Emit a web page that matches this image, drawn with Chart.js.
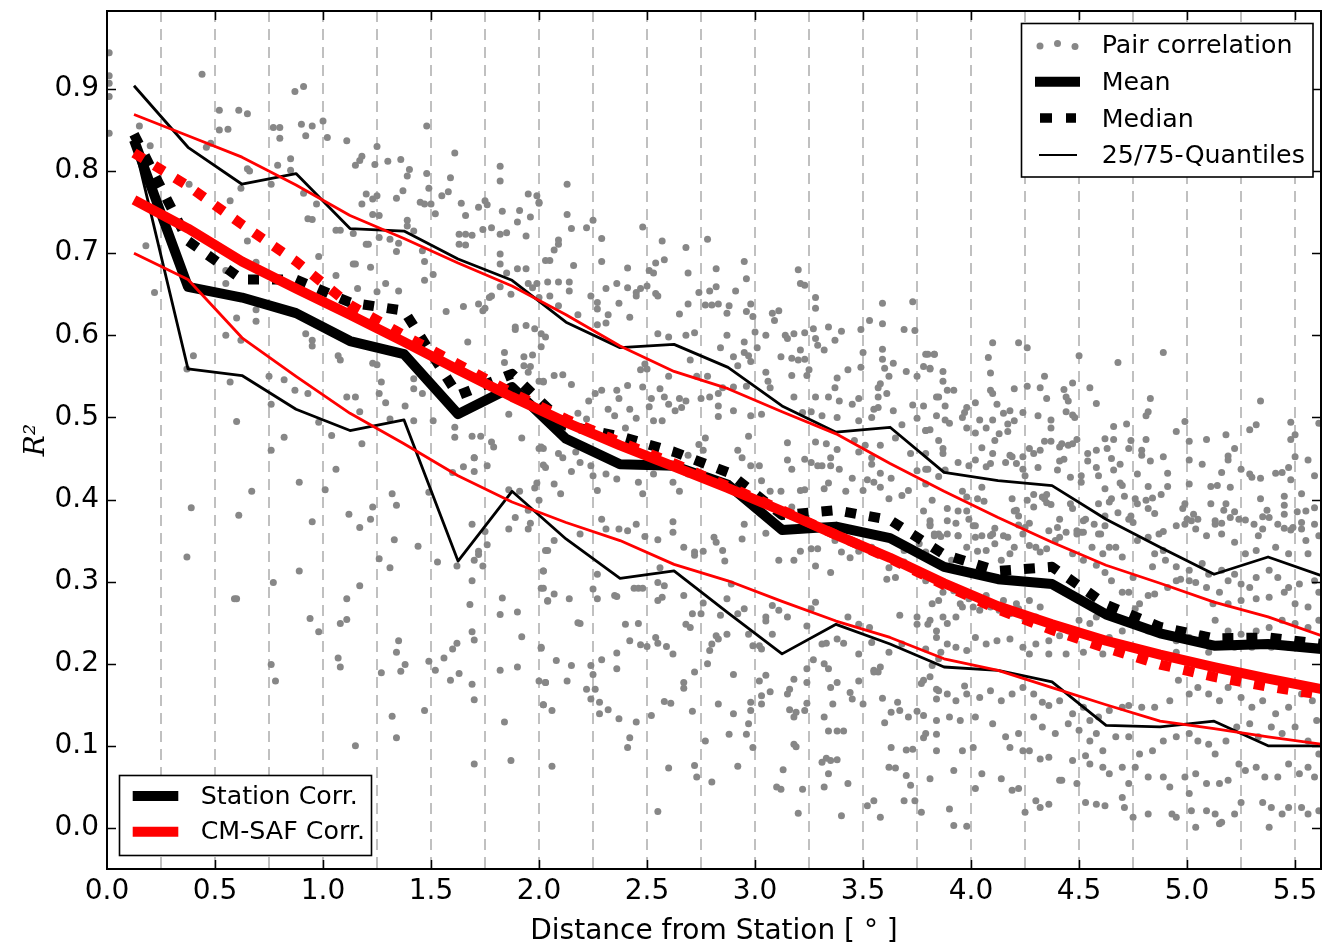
<!DOCTYPE html>
<html>
<head>
<meta charset="utf-8">
<title>Pair correlation vs distance</title>
<script src="https://cdn.jsdelivr.net/npm/chart.js@4.4.1/dist/chart.umd.min.js"></script>
<style>
html, body { margin: 0; padding: 0; background: #ffffff; }
#canvasCorr { display: block; }
</style>
</head>
<body>
<canvas id="canvasCorr" width="1325" height="946"></canvas>
<script>
// global holder
var go = {};

// bin centres (degrees) used by all the summary curves
var binCenters = [0.125, 0.375, 0.625, 0.875, 1.125, 1.375, 1.625, 1.875, 2.125, 2.375, 2.625, 2.875,
    3.125, 3.375, 3.625, 3.875, 4.125, 4.375, 4.625, 4.875, 5.125, 5.375, 5.625];

// station correlation (black)
var stationMean = [0.838, 0.659, 0.646, 0.627, 0.593, 0.577, 0.504, 0.537, 0.474, 0.443, 0.441, 0.418,
    0.363, 0.367, 0.353, 0.318, 0.303, 0.297, 0.260, 0.237, 0.222, 0.224, 0.218];
var stationMedian = [0.845, 0.715, 0.668, 0.668, 0.640, 0.630, 0.527, 0.553, 0.490, 0.477, 0.458, 0.433,
    0.381, 0.387, 0.375, 0.333, 0.313, 0.318, 0.272, 0.245, 0.231, 0.232, 0.224];
var stationQ25 = [0.835, 0.559, 0.551, 0.510, 0.484, 0.497, 0.325, 0.410, 0.352, 0.304, 0.313, 0.262,
    0.212, 0.248, 0.224, 0.196, 0.192, 0.178, 0.125, 0.123, 0.130, 0.100, 0.100];
var stationQ75 = [0.904, 0.829, 0.784, 0.797, 0.730, 0.727, 0.693, 0.667, 0.616, 0.585, 0.589, 0.561,
    0.514, 0.482, 0.488, 0.433, 0.423, 0.417, 0.376, 0.342, 0.309, 0.330, 0.307];

// CM-SAF correlation (red)
var cmsafMean = [0.765, 0.730, 0.690, 0.657, 0.625, 0.592, 0.558, 0.525, 0.494, 0.466, 0.440, 0.414,
    0.386, 0.357, 0.329, 0.298, 0.270, 0.248, 0.228, 0.211, 0.196, 0.182, 0.169];
var cmsafMedian = [0.822, 0.782, 0.735, 0.690, 0.637, 0.600, 0.565, 0.530, 0.498, 0.470, 0.444, 0.416,
    0.387, 0.357, 0.328, 0.296, 0.266, 0.241, 0.219, 0.199, 0.184, 0.172, 0.162];
var cmsafQ25 = [0.700, 0.668, 0.597, 0.550, 0.505, 0.468, 0.429, 0.397, 0.372, 0.350, 0.321, 0.301,
    0.276, 0.252, 0.232, 0.206, 0.192, 0.171, 0.150, 0.130, 0.121, 0.111, 0.102];
var cmsafQ75 = [0.869, 0.843, 0.817, 0.783, 0.746, 0.718, 0.688, 0.660, 0.625, 0.587, 0.556, 0.535,
    0.507, 0.480, 0.444, 0.410, 0.378, 0.348, 0.320, 0.298, 0.275, 0.257, 0.234];

// legend texts
var legendTopLabels = ["Pair correlation", "Mean", "Median", "25/75-Quantiles"];
var legendBottomLabels = ["Station Corr.", "CM-SAF Corr."];

// single station pairs [distance, R^2]
var pairPoints = [
    [0.01,0.944],[0.01,0.916],[0.01,0.907],[0.01,0.891],[0.01,0.846],
    [0.44,0.918],[0.15,0.855],[0.20,0.831],[0.52,0.874],[0.61,0.874],[0.65,0.870],[0.52,0.850],[0.56,0.851],[0.87,0.897],[0.91,0.903],[0.77,0.853],[0.80,0.853],[0.80,0.840],[0.90,0.857],[0.95,0.855],[1.00,0.861],[0.92,0.843],[1.02,0.841],[1.11,0.837],[0.46,0.829],[0.48,0.834],[0.85,0.815],[0.79,0.807],[0.65,0.803],[0.66,0.800],[0.85,0.801],[0.38,0.784],[0.76,0.784],[0.62,0.779],[0.91,0.773],[0.57,0.764],[0.97,0.760],[0.93,0.742],[0.95,0.741],[1.06,0.728],[1.08,0.728],[0.65,0.715],[0.18,0.709],[0.98,0.696],[0.22,0.652],[0.55,0.679],[0.55,0.663],[0.69,0.689],[1.06,0.673],[1.14,0.687],[1.15,0.687],[1.16,0.657],[1.29,0.663],[1.35,0.654],[1.22,0.683],[1.25,0.653],[0.60,0.621],[0.69,0.617],[0.69,0.631],[0.55,0.600],[0.62,0.594],[0.40,0.575],[0.37,0.559],[0.57,0.543],[0.75,0.550],[0.82,0.546],[0.87,0.533],[0.93,0.529],[0.92,0.602],[0.95,0.594],[0.95,0.587],[1.07,0.575],[1.08,0.570],[1.23,0.566],[1.25,0.564],[1.27,0.543],[1.26,0.529],[1.42,0.547],[1.42,0.535],[1.46,0.529],[0.60,0.495],[0.76,0.516],[0.82,0.476],[0.76,0.460],[0.98,0.494],[1.04,0.478],[1.11,0.525],[1.15,0.525],[1.17,0.507],[1.18,0.468],[1.29,0.518],[1.31,0.498],[1.38,0.514],[1.42,0.496],[1.51,0.496],[1.61,0.488],[1.61,0.476],[1.69,0.477],[1.73,0.477],[1.78,0.470],[1.79,0.464],[1.70,0.451],[1.92,0.475],[2.02,0.462],
    [1.48,0.855],[1.61,0.822],[1.25,0.830],[1.17,0.813],[1.18,0.818],[1.15,0.807],[1.24,0.808],[1.30,0.812],[1.36,0.814],[1.40,0.802],[1.39,0.794],[1.37,0.776],[1.34,0.767],[1.48,0.797],[1.49,0.779],[1.55,0.770],[1.58,0.775],[1.59,0.792],[1.20,0.772],[1.23,0.766],[1.25,0.770],[1.18,0.760],[1.23,0.747],[1.26,0.746],[1.14,0.724],[1.20,0.711],[1.21,0.711],[1.26,0.719],[1.31,0.717],[1.35,0.712],[1.34,0.702],[1.39,0.740],[1.39,0.733],[1.42,0.727],[1.45,0.762],[1.47,0.760],[1.50,0.760],[1.52,0.748],[1.46,0.703],[1.47,0.690],[1.51,0.674],[1.47,0.667],[1.64,0.761],[1.66,0.746],[1.72,0.756],[1.75,0.764],[1.76,0.759],[1.63,0.723],[1.66,0.723],[1.69,0.722],[1.63,0.711],[1.66,0.710],[1.74,0.729],[1.78,0.731],[1.82,0.723],[1.85,0.725],[1.82,0.806],[1.82,0.788],[1.83,0.751],[1.91,0.752],[1.90,0.738],[1.96,0.744],[1.95,0.772],[1.99,0.770],[2.00,0.761],[1.94,0.721],[1.94,0.681],[2.03,0.691],[1.82,0.699],[1.82,0.687],[1.85,0.676],[1.90,0.681],[1.57,0.629],[1.65,0.635],[1.72,0.638],[1.74,0.630],[1.75,0.633],[1.78,0.648],[1.77,0.646],[1.82,0.659],[1.87,0.650],[1.95,0.663],[1.97,0.658],[1.99,0.663],[1.89,0.610],[1.89,0.607],[1.94,0.612],[1.98,0.608],[2.01,0.602],[2.03,0.598],[1.67,0.592],[1.84,0.579],[1.84,0.567],[1.93,0.574],[1.97,0.576],[1.93,0.563],[1.96,0.562],[1.95,0.555],[2.01,0.586],[2.02,0.543],[1.86,0.504],
    [1.06,0.437],[0.67,0.410],[0.89,0.421],[1.01,0.412],[0.39,0.390],[0.61,0.381],[0.95,0.373],[1.12,0.382],[1.23,0.391],[1.22,0.376],[1.17,0.366],[1.32,0.407],[1.34,0.393],[1.33,0.351],[1.44,0.343],[1.49,0.409],[1.60,0.433],[1.65,0.440],[1.70,0.434],[1.70,0.451],[1.76,0.441],[1.69,0.370],[1.72,0.337],[1.72,0.333],[1.70,0.326],[1.74,0.319],[1.76,0.345],[1.75,0.361],[1.86,0.412],[1.91,0.410],[1.89,0.378],[1.86,0.364],[1.95,0.364],[1.96,0.371],[1.95,0.387],[1.99,0.420],[1.98,0.414],[2.00,0.399],[1.53,0.324],[1.62,0.319],[1.69,0.301],[1.68,0.272],[2.02,0.442],[2.00,0.462],[2.02,0.313],[2.01,0.292],[2.04,0.276],[2.03,0.338],[1.26,0.328],[1.31,0.317],[0.89,0.313],[0.77,0.299],[0.37,0.330],[0.59,0.279],[0.60,0.279],[1.17,0.295],[1.11,0.279],[0.94,0.255],[0.98,0.239],[1.08,0.249],[1.11,0.254],[1.83,0.280],[1.82,0.260],[1.90,0.263],[1.92,0.233],[1.69,0.239],[1.70,0.229],[1.62,0.225],[1.60,0.218],[1.56,0.207],[1.49,0.203],[1.52,0.192],[1.59,0.180],[1.63,0.188],[1.35,0.228],[1.34,0.214],[1.38,0.199],[1.36,0.191],[1.27,0.189],[1.07,0.207],[1.08,0.196],[0.76,0.199],[0.78,0.179],[1.69,0.175],[1.70,0.156],[1.82,0.192],[1.90,0.196],[2.01,0.219],[2.03,0.177],[2.02,0.150],[1.32,0.136],[1.34,0.110],[1.47,0.143],[1.15,0.100],[1.84,0.129],[1.70,0.078],[1.87,0.082],
    [2.13,0.784],[2.00,0.762],[2.13,0.747],[2.15,0.730],[2.22,0.731],[2.25,0.740],[2.29,0.718],[2.29,0.690],[2.16,0.685],[2.09,0.716],[2.09,0.711],[2.07,0.704],[2.05,0.691],[2.48,0.732],[2.57,0.715],[2.68,0.707],[2.78,0.717],[2.54,0.688],[2.58,0.692],[2.51,0.679],[2.53,0.676],[2.95,0.690],[2.96,0.669],[2.82,0.681],[2.69,0.676],[2.41,0.682],[3.20,0.680],[3.21,0.663],[3.23,0.661],[2.04,0.665],[2.09,0.665],[2.14,0.665],[2.14,0.654],[2.24,0.648],[2.27,0.640],[2.31,0.657],[2.32,0.625],[2.36,0.663],[2.37,0.639],[2.41,0.658],[2.45,0.652],[2.47,0.657],[2.50,0.660],[2.45,0.648],[2.54,0.651],[2.55,0.648],[2.65,0.626],[2.69,0.638],[2.74,0.652],[2.79,0.654],[2.82,0.659],[2.91,0.654],[2.77,0.637],[2.80,0.637],[2.83,0.638],[2.88,0.636],[2.87,0.627],[2.96,0.629],[2.98,0.638],[2.99,0.623],[3.08,0.627],[3.11,0.630],[3.09,0.618],[3.28,0.646],[3.28,0.633],[3.59,0.639],[3.73,0.641],[2.00,0.646],[2.05,0.648],[2.09,0.636],[2.18,0.625],[2.27,0.632],[2.27,0.613],[2.31,0.615],[2.42,0.622],[2.55,0.602],[2.60,0.598],[2.68,0.600],[2.72,0.603],[2.87,0.600],[2.84,0.585],[2.95,0.592],[3.01,0.585],[3.00,0.604],[2.95,0.579],[2.97,0.575],[2.98,0.568],[2.90,0.574],[2.92,0.563],[2.70,0.570],[2.49,0.565],[2.50,0.559],[2.47,0.558],[2.60,0.550],[2.73,0.550],[2.78,0.550],[2.85,0.536],[2.90,0.537],[2.96,0.538],[3.05,0.555],[3.06,0.544],[3.07,0.536],[3.05,0.600],[3.14,0.600],[3.15,0.596],[3.18,0.602],[3.23,0.603],[3.27,0.608],[3.28,0.596],[3.29,0.588],[3.32,0.582],[3.34,0.610],[3.37,0.594],[3.40,0.605],[3.49,0.607],[3.53,0.618],[3.59,0.614],[3.69,0.607],[3.74,0.606],[3.50,0.579],[3.49,0.561],[3.59,0.583],[3.59,0.571],[3.64,0.566],[3.60,0.560],[3.62,0.550],[3.58,0.541],[3.57,0.536],[3.61,0.529],[3.70,0.556],[3.75,0.550],[3.80,0.577],[3.83,0.577],[3.78,0.562],[3.81,0.560],[3.84,0.525],[3.43,0.558],[3.38,0.548],[3.37,0.536],[3.34,0.525],[3.39,0.520],[3.21,0.582],[3.20,0.570],[3.23,0.571],[3.17,0.572],[3.12,0.574],[3.17,0.551],[3.25,0.558],[3.24,0.551],[3.18,0.525],[3.28,0.525],[3.38,0.500],[3.31,0.502],[3.22,0.506],[3.26,0.507],[3.45,0.516],[3.48,0.523],[3.48,0.496],[3.54,0.500],[3.55,0.510],[3.57,0.525],[3.57,0.512],[3.64,0.508],[3.68,0.491],[3.73,0.515],[3.75,0.499],[3.79,0.484],[3.65,0.475],[3.58,0.466],[3.54,0.451],[3.51,0.466],[3.46,0.472],[3.48,0.458],[3.38,0.461],[3.35,0.451],[3.39,0.437],[3.45,0.426],[3.52,0.424],[3.55,0.421],[3.58,0.415],[3.58,0.432],[3.63,0.426],[3.71,0.411],[3.75,0.435],[3.79,0.437],[3.54,0.443],[3.72,0.456],[3.42,0.410],[3.31,0.441],[3.26,0.445],[3.23,0.412],[3.12,0.410],[3.07,0.410],[3.03,0.423],[3.02,0.441],[2.98,0.441],[2.94,0.451],[2.92,0.460],[2.97,0.477],[2.92,0.415],[2.77,0.475],[2.76,0.460],[2.74,0.467],[2.69,0.454],[2.69,0.431],[2.65,0.410],[2.83,0.529],[2.83,0.514],[2.79,0.525],[2.75,0.523],[2.65,0.523],[2.68,0.520],[2.66,0.512],[2.63,0.508],[2.60,0.516],[2.58,0.525],[2.52,0.523],[2.56,0.535],[2.51,0.513],[2.53,0.496],[2.45,0.499],[2.42,0.510],[2.36,0.533],[2.37,0.523],[2.32,0.510],[2.35,0.502],[2.29,0.533],[2.26,0.529],[2.23,0.520],[2.18,0.505],[2.22,0.498],[2.40,0.487],[2.41,0.539],[2.48,0.537],[2.57,0.496],[2.90,0.508],[2.83,0.501],[2.98,0.502],[3.03,0.504],[3.15,0.469],[3.15,0.448],[3.17,0.437],[3.23,0.449],[3.29,0.441],[3.35,0.441],[3.28,0.470],[3.33,0.468],[3.21,0.411],[3.32,0.413],[3.34,0.420],[3.50,0.411],[3.62,0.401],[3.68,0.405],[3.79,0.419],[2.09,0.456],[2.11,0.451],[2.07,0.419],[2.10,0.407],[2.15,0.434],[2.17,0.458],[2.19,0.445],[2.24,0.441],[2.25,0.429],[2.27,0.411],[2.31,0.431],[2.36,0.425],[2.46,0.421],[2.48,0.407],[2.53,0.431],[2.62,0.421],[2.68,0.433],[2.01,0.464],[2.03,0.439],[2.00,0.544],[2.02,0.544],[2.07,0.551],[2.11,0.552],[2.15,0.540],
    [2.19,0.358],[2.31,0.364],[2.29,0.376],[2.37,0.364],[2.41,0.362],[2.45,0.370],[2.49,0.355],[2.55,0.351],[2.62,0.373],[2.62,0.360],[2.67,0.342],[2.72,0.336],[2.72,0.332],[2.76,0.337],[2.81,0.354],[2.82,0.348],[2.86,0.325],[2.85,0.338],[2.94,0.352],[2.95,0.370],[3.05,0.359],[3.06,0.378],[3.10,0.388],[3.17,0.391],[3.11,0.326],[3.18,0.326],[3.21,0.337],[3.26,0.340],[3.29,0.340],[3.28,0.319],[3.35,0.311],[3.37,0.350],[3.40,0.336],[3.44,0.329],[3.48,0.337],[3.54,0.342],[3.62,0.317],[3.61,0.303],[3.65,0.305],[3.69,0.338],[3.69,0.324],[3.76,0.346],[3.83,0.356],[3.79,0.301],
    [2.02,0.313],[2.02,0.292],[2.04,0.277],[2.07,0.350],[2.04,0.338],[2.14,0.279],[2.07,0.285],[2.01,0.220],[2.18,0.250],[2.19,0.249],[2.27,0.309],[2.25,0.291],[2.27,0.279],[2.35,0.283],[2.36,0.282],[2.40,0.248],[2.46,0.249],[2.42,0.228],[2.47,0.223],[2.50,0.221],[2.44,0.292],[2.46,0.292],[2.48,0.292],[2.55,0.299],[2.58,0.295],[2.56,0.317],[2.57,0.281],[2.55,0.277],[2.54,0.232],[2.55,0.225],[2.59,0.221],[2.62,0.212],[2.67,0.283],[2.68,0.248],[2.70,0.244],[2.71,0.261],[2.76,0.274],[2.75,0.261],[2.80,0.224],[2.79,0.216],[2.82,0.234],[2.83,0.230],[2.87,0.236],[2.87,0.279],[2.84,0.259],[2.89,0.297],[2.92,0.261],[2.95,0.267],
    [2.97,0.236],[2.99,0.222],[3.02,0.222],[3.03,0.218],[3.05,0.257],[3.05,0.252],[3.08,0.236],[3.08,0.271],[3.11,0.265],[3.15,0.257],[3.24,0.246],[3.26,0.267],[3.28,0.275],[3.31,0.224],[3.33,0.225],[3.32,0.200],[3.38,0.230],[3.41,0.225],[3.43,0.257],[3.48,0.248],[3.53,0.244],[3.48,0.212],[3.54,0.226],[3.55,0.192],[3.57,0.190],[3.58,0.196],[3.62,0.214],[3.68,0.224],[3.67,0.259],[3.75,0.257],[3.80,0.248],[3.75,0.248],[3.84,0.232],[3.79,0.218],[3.82,0.198],[3.85,0.206],
    [2.00,0.179],[2.03,0.177],[2.02,0.150],[2.06,0.143],[2.08,0.204],[2.13,0.179],[2.15,0.198],[2.22,0.169],[2.24,0.198],[2.25,0.187],[2.24,0.157],[2.26,0.169],[2.28,0.153],[2.28,0.139],[2.32,0.144],[2.29,0.205],[2.36,0.213],[2.36,0.194],[2.37,0.133],[2.42,0.110],[2.41,0.098],[2.45,0.129],[2.52,0.137],[2.58,0.154],[2.61,0.152],[2.67,0.177],[2.67,0.170],[2.72,0.190],[2.78,0.200],[2.71,0.142],[2.83,0.151],[2.90,0.187],[2.90,0.139],[2.88,0.114],[2.97,0.127],[2.96,0.114],[2.98,0.143],[2.98,0.153],[3.02,0.179],[3.03,0.161],[3.03,0.151],[3.05,0.186],[3.07,0.166],[3.15,0.163],[3.16,0.169],[3.18,0.181],[3.16,0.144],[3.19,0.141],[3.18,0.135],[3.23,0.143],[3.24,0.152],[3.24,0.177],[3.24,0.194],[3.27,0.205],[3.34,0.194],[3.35,0.171],[3.36,0.151],[3.38,0.177],[3.44,0.165],[3.45,0.157],[3.48,0.179],[3.50,0.151],[3.55,0.190],[3.59,0.158],[3.60,0.128],[3.63,0.141],[3.66,0.153],[3.67,0.143],[3.71,0.135],[3.75,0.142],[3.77,0.176],[3.78,0.137],[3.73,0.096],[3.70,0.095],[3.84,0.169],[3.84,0.157],[3.84,0.114],[3.78,0.110],[3.63,0.098],[3.62,0.074],[3.65,0.073],[3.70,0.064],[3.72,0.052],[3.69,0.033],[3.74,0.033],[3.77,0.019],[3.58,0.013],[3.55,0.033],[3.52,0.027],[3.43,0.054],[3.40,0.015],[3.34,0.066],[3.32,0.050],[3.35,0.082],[3.33,0.085],[3.38,0.083],[3.31,0.080],[3.34,0.118],[3.38,0.118],[3.41,0.118],[3.32,0.135],[3.18,0.102],[3.19,0.099],[3.13,0.071],[3.12,0.047],[3.10,0.050],[3.22,0.047],[3.20,0.018],[2.99,0.098],[2.92,0.075],[2.77,0.106],[2.72,0.076],[2.73,0.062],[2.80,0.056],[2.60,0.073],[2.55,0.020],[2.06,0.075],
    [4.10,0.591],[4.22,0.591],[4.26,0.585],[4.08,0.573],[4.09,0.554],[4.09,0.533],[4.10,0.529],[4.12,0.516],[4.20,0.535],[4.26,0.538],[4.32,0.536],[4.34,0.550],[4.35,0.523],[4.43,0.534],[4.44,0.525],[4.45,0.520],[4.47,0.542],[4.44,0.507],[4.47,0.503],[4.48,0.500],[4.50,0.575],[4.55,0.536],[4.58,0.517],[4.68,0.567],[4.89,0.579],[4.83,0.523],[4.82,0.507],[4.81,0.502],[4.72,0.492],[4.66,0.489],[5.34,0.520],[5.48,0.494],[5.50,0.479],[5.48,0.473],[5.29,0.485],[5.32,0.491],[4.99,0.495],[4.95,0.483],[5.01,0.471],[5.09,0.473],[5.18,0.479],[5.22,0.462],[5.50,0.452],[5.56,0.448],[5.47,0.439],[5.61,0.493],
    [3.79,0.577],[3.83,0.577],[3.81,0.559],[3.87,0.556],[3.87,0.544],[3.78,0.514],[3.85,0.525],[3.88,0.514],[3.89,0.533],[3.92,0.533],[3.84,0.502],[3.88,0.497],[3.90,0.493],[3.81,0.485],[3.79,0.484],[3.85,0.472],[3.87,0.462],[3.87,0.456],[3.79,0.456],[3.80,0.437],[3.85,0.428],[3.88,0.436],[3.94,0.445],[3.96,0.410],[3.97,0.506],[3.96,0.500],[3.98,0.487],[3.98,0.512],[4.02,0.518],[4.04,0.497],[4.02,0.481],[4.07,0.487],[4.10,0.497],[4.13,0.480],[4.15,0.505],[4.18,0.508],[4.17,0.492],[4.17,0.483],[4.05,0.463],[4.11,0.472],[4.10,0.456],[4.18,0.454],[4.19,0.452],[4.24,0.452],[4.16,0.445],[4.21,0.444],[4.24,0.437],[4.25,0.429],[4.07,0.440],[4.09,0.444],[4.05,0.415],[4.02,0.448],[3.99,0.441],[4.03,0.401],[4.06,0.398],[3.98,0.403],[3.94,0.386],[3.98,0.386],[3.99,0.376],[3.89,0.389],[3.89,0.374],[3.93,0.371],[3.81,0.374],[3.82,0.399],[3.78,0.386],[3.81,0.370],[3.85,0.358],[3.89,0.358],[3.94,0.356],[4.02,0.368],[4.02,0.354],[4.10,0.358],[4.17,0.354],[4.11,0.365],[4.19,0.401],[4.20,0.386],[4.21,0.387],[4.22,0.380],[4.22,0.369],[4.27,0.371],[4.25,0.366],[4.29,0.391],[4.33,0.403],[4.35,0.406],[4.34,0.401],[4.35,0.396],[4.37,0.394],[4.29,0.406],[4.26,0.399],[4.27,0.462],[4.29,0.456],[4.31,0.439],[4.32,0.460],[4.34,0.471],[4.37,0.471],[4.37,0.487],[4.37,0.497],[4.31,0.502],[4.20,0.496],[4.24,0.506],[4.40,0.436],[4.41,0.447],[4.43,0.449],[4.41,0.464],[4.42,0.468],[4.45,0.466],[4.47,0.468],[4.49,0.473],[4.46,0.427],[4.51,0.429],[4.54,0.456],[4.54,0.447],[4.51,0.421],[4.58,0.439],[4.59,0.429],[4.58,0.460],[4.62,0.474],[4.63,0.462],[4.66,0.473],[4.65,0.450],[4.66,0.436],[4.69,0.443],[4.69,0.420],[4.70,0.417],[4.71,0.404],[4.62,0.413],[4.65,0.401],[4.59,0.395],[4.62,0.380],[4.64,0.397],[4.62,0.368],[4.60,0.358],[4.53,0.376],[4.52,0.374],[4.57,0.370],[4.51,0.360],[4.49,0.362],[4.41,0.376],[4.40,0.366],[4.46,0.395],[4.47,0.389],[4.36,0.362],[4.41,0.354],[4.68,0.384],[4.73,0.376],[4.75,0.372],[4.74,0.380],[4.76,0.401],[4.81,0.399],[4.84,0.402],[4.82,0.389],[4.85,0.383],[4.88,0.406],[4.91,0.416],[4.91,0.432],[4.89,0.452],[4.83,0.447],[4.79,0.460],[4.79,0.454],[4.77,0.431],[4.73,0.462],[4.74,0.472],[4.81,0.473],[4.82,0.416],[4.77,0.395],[4.89,0.361],[4.98,0.389],[4.99,0.395],[5.00,0.376],[5.02,0.374],[5.03,0.382],[5.05,0.376],[5.01,0.419],[5.01,0.448],[5.07,0.443],[5.11,0.395],[5.11,0.416],[5.14,0.417],[5.16,0.433],[5.18,0.395],[5.17,0.387],[5.19,0.453],[5.19,0.448],[5.20,0.415],[5.20,0.378],[5.13,0.370],[5.16,0.371],[5.22,0.385],[5.25,0.437],[5.24,0.376],[5.27,0.375],[5.31,0.370],[5.35,0.379],[5.29,0.431],[5.30,0.427],[5.34,0.426],[5.34,0.401],[5.37,0.387],[5.38,0.378],[5.42,0.370],[5.45,0.365],[5.41,0.432],[5.44,0.433],[5.48,0.424],[5.45,0.404],[5.45,0.393],[5.45,0.382],[5.48,0.363],[5.51,0.385],[5.53,0.372],[5.53,0.364],[5.53,0.407],[5.55,0.386],[5.59,0.429],[5.59,0.390],[5.59,0.370],
    [4.01,0.368],[4.05,0.356],[4.11,0.346],[4.09,0.356],[3.94,0.356],[3.86,0.355],[3.83,0.358],[3.81,0.368],[3.79,0.336],[3.85,0.336],[3.91,0.326],[3.98,0.342],[4.03,0.337],[4.07,0.338],[4.14,0.326],[4.15,0.356],[4.18,0.334],[4.20,0.342],[4.24,0.358],[4.27,0.344],[4.30,0.342],[4.32,0.336],[4.35,0.340],[4.39,0.350],[4.44,0.360],[4.49,0.358],[4.52,0.360],[4.59,0.358],[4.56,0.342],[4.47,0.334],[4.52,0.326],[4.61,0.334],[4.64,0.342],[4.67,0.342],[4.70,0.330],[4.77,0.350],[4.82,0.354],[4.85,0.334],[4.89,0.338],[4.87,0.358],[4.95,0.368],[4.99,0.370],[5.04,0.364],[5.09,0.356],[5.13,0.374],[5.16,0.358],[5.22,0.348],[5.27,0.334],[5.32,0.338],[5.33,0.356],[5.35,0.364],[5.41,0.342],[5.47,0.334],[5.49,0.366],[5.55,0.350],[5.56,0.334],[5.61,0.356],
    [5.59,0.301],[5.52,0.297],[5.47,0.293],[5.42,0.305],[5.38,0.314],[5.32,0.305],[5.29,0.293],[5.25,0.297],[5.22,0.309],[5.19,0.301],[5.16,0.314],[5.10,0.309],[5.07,0.322],[5.04,0.299],[5.01,0.301],[4.97,0.303],[4.95,0.301],[4.91,0.293],[4.85,0.285],[4.82,0.283],[4.78,0.273],[4.76,0.267],[4.73,0.287],[4.70,0.287],[4.65,0.301],[4.62,0.311],[4.58,0.320],[4.75,0.305],[4.84,0.318],[4.90,0.326],[4.95,0.318],[5.01,0.314],[5.09,0.293],[5.12,0.273],[5.15,0.287],[5.19,0.273],[5.25,0.277],[5.32,0.279],[5.38,0.281],[5.45,0.287],[5.50,0.273],[5.56,0.269],[5.61,0.287],
    [3.82,0.273],[3.85,0.277],[3.87,0.257],[3.81,0.253],[3.84,0.240],[3.89,0.249],[3.93,0.257],[3.96,0.269],[4.01,0.269],[4.04,0.265],[4.09,0.269],[4.13,0.265],[4.18,0.261],[4.22,0.267],[4.25,0.253],[4.30,0.257],[4.32,0.269],[4.27,0.277],[4.21,0.273],[4.15,0.277],[4.07,0.283],[3.99,0.279],[3.95,0.273],[3.92,0.289],[3.87,0.287],[4.02,0.232],[3.98,0.216],[3.93,0.220],[3.89,0.224],[3.86,0.214],[4.07,0.224],[4.12,0.228],[4.18,0.230],[4.24,0.220],[4.30,0.224],[4.36,0.228],[4.41,0.234],[4.45,0.240],[4.50,0.253],[4.55,0.249],[4.58,0.257],[4.64,0.232],[4.70,0.240],[4.76,0.249],[4.82,0.240],[4.89,0.236],[4.95,0.228],[5.01,0.232],[5.07,0.236],[5.13,0.253],[5.19,0.240],[5.25,0.236],[5.32,0.240],[5.38,0.244],[5.44,0.253],[5.50,0.249],[5.56,0.244],[5.61,0.253],[5.47,0.220],[5.39,0.220],[5.30,0.220],[5.22,0.220],[5.16,0.224],[5.10,0.214],[4.95,0.214],[4.85,0.212],[4.78,0.216],[4.69,0.214],[4.61,0.212],[4.52,0.214],[4.44,0.212],[4.36,0.212],[4.27,0.212],
    [3.78,0.180],[3.81,0.184],[3.85,0.167],[3.89,0.163],[3.93,0.155],[3.97,0.173],[3.98,0.163],[4.04,0.159],[4.09,0.167],[4.14,0.155],[4.19,0.163],[4.24,0.171],[4.29,0.163],[4.33,0.153],[4.36,0.149],[4.41,0.155],[4.47,0.139],[4.52,0.147],[4.55,0.131],[4.59,0.135],[4.64,0.143],[4.70,0.147],[4.73,0.149],[4.79,0.147],[4.85,0.147],[4.92,0.155],[4.96,0.180],[5.01,0.163],[5.05,0.171],[5.10,0.163],[5.15,0.155],[5.19,0.171],[5.25,0.159],[5.30,0.147],[5.35,0.155],[5.41,0.139],[5.47,0.147],[5.53,0.163],[5.58,0.155],[5.60,0.131],
    [3.79,0.115],[3.84,0.131],[3.90,0.135],[3.95,0.131],[4.02,0.135],[4.10,0.127],[4.16,0.111],[4.22,0.115],[4.29,0.135],[4.33,0.123],[4.39,0.115],[4.45,0.127],[4.50,0.119],[4.55,0.106],[4.58,0.115],[4.61,0.094],[4.67,0.111],[4.73,0.111],[4.78,0.090],[4.84,0.094],[4.89,0.106],[4.95,0.111],[5.01,0.115],[5.05,0.106],[5.10,0.102],[5.13,0.090],[5.18,0.106],[5.23,0.123],[5.29,0.127],[5.33,0.111],[5.39,0.123],[5.44,0.115],[5.50,0.123],[5.56,0.106],[5.61,0.090],
    [3.84,0.094],[3.92,0.070],[3.96,0.094],[4.01,0.098],[4.05,0.066],[4.14,0.060],[4.18,0.098],[4.24,0.094],[4.27,0.094],[4.32,0.084],[4.36,0.086],[4.41,0.058],[4.47,0.082],[4.53,0.088],[4.55,0.078],[4.61,0.074],[4.64,0.066],[4.70,0.074],[4.73,0.054],[4.76,0.074],[4.82,0.062],[4.89,0.062],[4.92,0.050],[4.99,0.062],[5.04,0.066],[5.09,0.054],[5.15,0.054],[5.19,0.058],[5.24,0.078],[5.27,0.070],[5.32,0.074],[5.36,0.062],[5.42,0.062],[5.47,0.078],[5.52,0.066],[5.56,0.074],[5.59,0.062],
    [3.81,0.060],[3.90,0.023],[3.92,0.003],[3.98,0.002],[4.02,0.048],[4.19,0.046],[4.22,0.048],[4.25,0.019],[4.30,0.033],[4.32,0.025],[4.36,0.029],[4.42,0.058],[4.49,0.054],[4.53,0.031],[4.58,0.029],[4.62,0.027],[4.70,0.037],[4.71,0.025],[4.75,0.013],[4.82,0.017],[4.93,0.017],[4.95,0.013],[5.01,0.042],[5.02,0.021],[5.04,0.001],[5.09,0.021],[5.13,0.017],[5.15,0.005],[5.25,0.031],[5.35,0.031],[5.39,0.025],[5.44,0.017],[5.47,0.025],[5.53,0.025],[5.56,0.017],[5.61,0.021],[5.38,0.001],[5.22,0.017],[5.16,0.007]
];

document.addEventListener("DOMContentLoaded", main);

//============================================================= main entry point
function main()
{
    Chart.defaults.font.family = "'DejaVu Sans', sans-serif";
    Chart.defaults.color = "#000000";

    go.canvas = document.getElementById("canvasCorr");
    var context = go.canvas.getContext("2d");
    go.chart = new Chart(context, buildConfig());
}

// pair the bin centres with one series
function toXY(values)
{
    var points = [];
    for (var i = 0; i < binCenters.length; ++ i)
        points.push({x: binCenters[i], y: values[i]});
    return points;
}

// one summary curve
function curve(values, color, width, dash, order)
{
    return {
        type: "line",
        data: toXY(values),
        borderColor: color,
        backgroundColor: color,
        borderWidth: width,
        borderDash: dash,
        borderCapStyle: "butt",
        borderJoinStyle: "round",
        pointRadius: 0,
        fill: false,
        tension: 0,
        order: order
    };
}

function buildConfig()
{
    var scatterData = [];
    for (var i = 0; i < pairPoints.length; ++ i)
        scatterData.push({x: pairPoints[i][0], y: pairPoints[i][1]});

    var dotted = [11, 13];

    return {
        type: "scatter",
        data:
        {
            datasets: [
                {
                    type: "scatter",
                    data: scatterData,
                    backgroundColor: "#878787",
                    borderWidth: 0,
                    pointRadius: 3.5,
                    order: 20
                },
                curve(stationQ25, "#000000", 2.8, [], 9),
                curve(stationQ75, "#000000", 2.8, [], 9),
                curve(stationMedian, "#000000", 10, dotted, 8),
                curve(stationMean, "#000000", 10, [], 7),
                curve(cmsafQ25, "#ff0000", 2.8, [], 4),
                curve(cmsafQ75, "#ff0000", 2.8, [], 4),
                curve(cmsafMedian, "#ff0000", 10, dotted, 3),
                curve(cmsafMean, "#ff0000", 10, [], 2)
            ]
        },
        options:
        {
            responsive: false,
            animation: false,
            devicePixelRatio: 1,
            layout: { padding: { top: 11, right: 1, left: 0, bottom: 0 } },
            plugins:
            {
                legend: { display: false },
                tooltip: { enabled: false }
            },
            scales:
            {
                x:
                {
                    type: "linear",
                    min: 0,
                    max: 5.62,
                    ticks:
                    {
                        stepSize: 0.25,
                        maxTicksLimit: 100,
                        autoSkip: false,
                        includeBounds: false,
                        maxRotation: 0,
                        padding: 6,
                        font: { size: 28 },
                        callback: function (value)
                        {
                            var r = Math.round(value * 100);
                            return (r % 50 === 0) ? value.toFixed(1) : "";
                        }
                    },
                    grid: { color: "#c0c0c0", lineWidth: 2, drawTicks: false },
                    border: { display: false, dash: [11, 7] },
                    title:
                    {
                        display: true,
                        text: "Distance from Station [ ° ]",
                        font: { size: 28 },
                        padding: { top: 0, bottom: -3 }
                    },
                    afterFit: function (scale)
                    {
                        scale.height = 77;
                        scale.paddingLeft = 0;
                        scale.paddingRight = 0;
                    }
                },
                y:
                {
                    type: "linear",
                    min: -0.05,
                    max: 0.995,
                    ticks:
                    {
                        stepSize: 0.1,
                        includeBounds: false,
                        padding: 8,
                        font: { size: 28 },
                        callback: function (value)
                        {
                            if (Math.abs(value) < 1e-9)
                                return "0.0";
                            return value.toFixed(1);
                        }
                    },
                    grid: { display: false, drawTicks: false },
                    border: { display: false },
                    title:
                    {
                        display: true,
                        text: "R²",
                        font: { family: "'DejaVu Serif', serif", style: "italic", size: 28 },
                        padding: { top: 20, bottom: 0 }
                    },
                    afterFit: function (scale)
                    {
                        scale.width = 107;
                        scale.paddingTop = 0;
                        scale.paddingBottom = 0;
                    }
                }
            }
        },
        plugins: [framePlugin]
    };
}

// frame, inward ticks and the two legend boxes
var framePlugin =
{
    id: "frameAndLegends",
    afterDraw: function (chart)
    {
        var ctx = chart.ctx;
        var area = chart.chartArea;
        var xScale = chart.scales.x;
        var yScale = chart.scales.y;
        var tickLen = 9;

        ctx.save();
        ctx.strokeStyle = "#000000";
        ctx.lineWidth = 1.5;
        ctx.setLineDash([]);
        ctx.beginPath();
        for (var i = 0; i < xScale.ticks.length; ++ i)
        {
            var v = xScale.ticks[i].value;
            if (Math.round(v * 100) % 50 !== 0 || v <= 0)
                continue;
            var px = Math.round(xScale.getPixelForValue(v)) + 0.5;
            ctx.moveTo(px, area.bottom);
            ctx.lineTo(px, area.bottom - tickLen);
            ctx.moveTo(px, area.top);
            ctx.lineTo(px, area.top + tickLen);
        }
        for (var j = 0; j < yScale.ticks.length; ++ j)
        {
            var py = Math.round(yScale.getPixelForValue(yScale.ticks[j].value)) + 0.5;
            ctx.moveTo(area.left, py);
            ctx.lineTo(area.left + tickLen, py);
            ctx.moveTo(area.right, py);
            ctx.lineTo(area.right - tickLen, py);
        }
        ctx.stroke();

        // axes frame
        ctx.lineWidth = 2;
        ctx.strokeRect(area.left, area.top, area.right - area.left, area.bottom - area.top);

        drawTopLegend(ctx);
        drawBottomLegend(ctx);
        ctx.restore();
    }
};

function legendBox(ctx, x, y, w, h)
{
    ctx.setLineDash([]);
    ctx.fillStyle = "#ffffff";
    ctx.fillRect(x, y, w, h);
    ctx.strokeStyle = "#000000";
    ctx.lineWidth = 1.6;
    ctx.strokeRect(x, y, w, h);
}

function legendLine(ctx, x1, x2, y, color, width, dash)
{
    ctx.beginPath();
    ctx.setLineDash(dash);
    ctx.lineCap = "butt";
    ctx.strokeStyle = color;
    ctx.lineWidth = width;
    ctx.moveTo(x1, y);
    ctx.lineTo(x2, y);
    ctx.stroke();
    ctx.setLineDash([]);
}

function drawTopLegend(ctx)
{
    legendBox(ctx, 1021.5, 23.5, 291.5, 153.5);

    // scatter sample: three dots
    ctx.fillStyle = "#878787";
    var dots = [[1040, 46], [1057.5, 43.5], [1075, 46.5]];
    for (var i = 0; i < dots.length; ++ i)
    {
        ctx.beginPath();
        ctx.arc(dots[i][0], dots[i][1], 3.5, 0, Math.PI * 2);
        ctx.fill();
    }
    legendLine(ctx, 1035, 1080, 81.7, "#000000", 10, []);
    legendLine(ctx, 1040, 1076, 118, "#000000", 9.5, [12, 14]);
    legendLine(ctx, 1039, 1077, 155, "#000000", 2, []);

    ctx.fillStyle = "#000000";
    ctx.font = "25.3px 'DejaVu Sans'";
    ctx.textAlign = "left";
    ctx.textBaseline = "alphabetic";
    var baselines = [53.3, 90, 126.7, 163.3];
    for (var k = 0; k < legendTopLabels.length; ++ k)
        ctx.fillText(legendTopLabels[k], 1101.7, baselines[k]);
}

function drawBottomLegend(ctx)
{
    legendBox(ctx, 119.5, 775.5, 252, 80);
    legendLine(ctx, 132.7, 178.3, 796, "#000000", 10, []);
    legendLine(ctx, 132.7, 178.3, 831.7, "#ff0000", 10, []);

    ctx.fillStyle = "#000000";
    ctx.font = "25.3px 'DejaVu Sans'";
    ctx.textAlign = "left";
    ctx.textBaseline = "alphabetic";
    ctx.fillText(legendBottomLabels[0], 200.7, 804.3);
    ctx.fillText(legendBottomLabels[1], 200.7, 839);
}
</script>
</body>
</html>
